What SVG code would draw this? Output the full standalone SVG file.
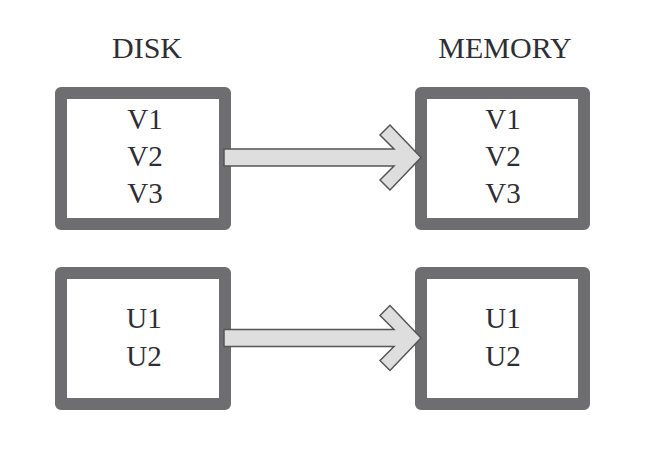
<svg xmlns="http://www.w3.org/2000/svg" width="653" height="461" viewBox="0 0 653 461">
<style>
.box{fill:#ffffff;stroke:#6e6e70;stroke-width:12;stroke-linejoin:round}
.t{font-family:"Liberation Serif","Times New Roman",serif;fill:#2e2e33;text-anchor:middle}
.title{font-size:30px}
.item{font-size:29px}
.arrow{fill:#dedede;stroke:#555555;stroke-width:1.5;stroke-linejoin:miter}
</style>
<rect width="653" height="461" fill="#ffffff"/>
<text class="t title" x="147" y="58">DISK</text>
<text class="t title" x="505" y="58">MEMORY</text>
<g id="disk-v">
<rect class="box" x="61" y="93" width="164" height="131"/>
<text class="t item" x="145" y="129">V1</text>
<text class="t item" x="145" y="166">V2</text>
<text class="t item" x="145" y="203">V3</text>
</g>
<g id="memory-v">
<rect class="box" x="421" y="93" width="163" height="131"/>
<text class="t item" x="503" y="129">V1</text>
<text class="t item" x="503" y="166">V2</text>
<text class="t item" x="503" y="203">V3</text>
</g>
<g id="disk-u">
<rect class="box" x="61" y="273" width="164" height="131"/>
<text class="t item" x="144" y="328">U1</text>
<text class="t item" x="144" y="366">U2</text>
</g>
<g id="memory-u">
<rect class="box" x="421" y="273" width="163" height="131"/>
<text class="t item" x="503" y="328">U1</text>
<text class="t item" x="503" y="366">U2</text>
</g>
<g id="connectors">
<polygon class="arrow" points="224,149 394,149 380,135 390,125 421,157.5 390,190 380,180 394,166 224,166"/>
<polygon class="arrow" points="224,329.5 394,329.5 380,315.5 390,305.5 421,338 390,370.5 380,360.5 394,346.5 224,346.5"/>
</g>
</svg>
